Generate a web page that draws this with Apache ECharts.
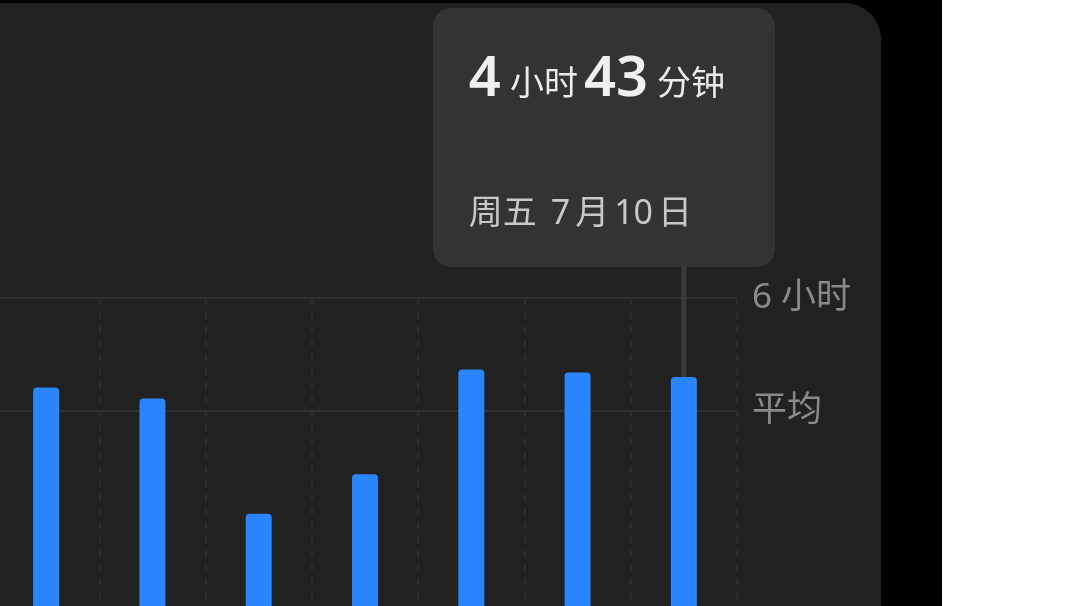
<!DOCTYPE html>
<html><head><meta charset="utf-8">
<script src="https://cdn.jsdelivr.net/npm/echarts@6/dist/echarts.min.js"></script>
<style>
html,body{margin:0;padding:0;background:#000;overflow:hidden;width:1080px;height:606px;position:relative}
#c{position:absolute;left:-60px;top:0;width:1140px;height:700px}
</style>
</head><body><div id="c"></div>
<script>
// ---- data ----
const days = ['周六 7月4日', '周日 7月5日', '周一 7月6日', '周二 7月7日', '周三 7月8日', '周四 7月9日', '周五 7月10日'];
const hours = [4.55, 4.37, 2.50, 3.14, 4.84, 4.79, 4.72];
const avgHours = 4.17;
const yMax = 6;
const yTickLabel = '6 小时';
const avgLabel = '平均';
const selectedIndex = 6;

const FONT = "'Noto Sans', 'Noto Sans CJK SC', sans-serif";
const OX = 60; // chart canvas is shifted 60px left of the page
const chart = echarts.init(document.getElementById('c'));

const bgGraphics = [
  { type: 'rect', z: -100, silent: true, shape: { x: 942 + OX, y: 0, width: 300, height: 800 }, style: { fill: '#ffffff' } },
  { type: 'rect', z: -99, silent: true, shape: { x: 0, y: 3, width: 881 + OX, height: 800, r: 36 }, style: { fill: '#212121' } }
];

chart.setOption({
  animation: false,
  backgroundColor: '#000',
  grid: { left: 53, right: 343, top: 298, bottom: 32, containLabel: false },
  xAxis: {
    type: 'category',
    data: days,
    boundaryGap: true,
    axisLine: { show: false },
    axisTick: { show: false },
    axisLabel: { show: false },
    splitLine: { show: true, interval: 0, lineStyle: { color: '#2c2c2c', width: 2, type: [7, 7] } }
  },
  yAxis: {
    type: 'value',
    position: 'right',
    min: 0, max: yMax, interval: yMax,
    axisLine: { show: false },
    axisTick: { show: false },
    axisLabel: {
      margin: 15, fontSize: 35, color: '#8a8a8a', fontFamily: FONT, padding: [0, 0, 8, 0],
      formatter: v => (v === yMax ? yTickLabel : '')
    },
    splitLine: { show: true, lineStyle: { color: '#2e2e2e', width: 2 } }
  },
  series: [
    {
      type: 'bar',
      z: 3,
      data: hours,
      barWidth: 26,
      itemStyle: { color: '#2a85ff', borderRadius: [4, 4, 0, 0] },
      markLine: {
        z: 1,
        silent: true,
        symbol: ['none', 'none'],
        animation: false,
        lineStyle: { color: '#2e2e2e', width: 2, type: 'solid' },
        label: { position: 'end', formatter: avgLabel, color: '#8a8a8a', fontSize: 35, distance: 15, fontFamily: FONT, padding: [0, 0, 10, 0] },
        data: [{ yAxis: avgHours }]
      }
    }
  ],
  graphic: bgGraphics
});

// tooltip-like callout for the selected bar
const val = hours[selectedIndex];
const hh = Math.floor(val);
const mm = Math.round((val - hh) * 60);
const dateText = days[selectedIndex].replace(/(\d+)月(\d+)日/, '{n|$1}月{n|$2}日');
const [bx, by] = chart.convertToPixel({ seriesIndex: 0 }, [selectedIndex, val]);
const boxW = 342, boxH = 259, boxX = bx - 251, boxY = 8;

chart.setOption({
  graphic: bgGraphics.concat([
    { type: 'rect', z: 50, silent: true, shape: { x: bx - 2.5, y: boxY + boxH - 4, width: 5, height: by - (boxY + boxH) + 4 }, style: { fill: '#3a3a3a' } },
    { type: 'rect', z: 60, silent: true, shape: { x: boxX, y: boxY, width: boxW, height: boxH, r: 18 }, style: { fill: '#333333' } },
    {
      type: 'text', z: 61, silent: true, x: boxX + 36, y: boxY + 100,
      style: {
        text: '{b|' + hh + '}{u|小时}{c|' + mm + '}{u|分钟}',
        verticalAlign: 'bottom',
        rich: {
          b: { fontSize: 56, fontWeight: 600, fill: '#f0f0f0', fontFamily: FONT, verticalAlign: 'bottom', lineHeight: 60 },
          c: { fontSize: 56, fontWeight: 600, fill: '#f0f0f0', fontFamily: FONT, verticalAlign: 'bottom', lineHeight: 60, padding: [0, 0, 0, 6] },
          u: { fontSize: 34, fill: '#ececec', fontFamily: FONT, verticalAlign: 'bottom', lineHeight: 60, padding: [0, 0, 6, 9] }
        }
      }
    },
    {
      type: 'text', z: 61, silent: true, x: boxX + 36, y: boxY + 206,
      style: {
        text: dateText, fontSize: 34, fill: '#c8c8c8', fontFamily: FONT, verticalAlign: 'middle',
        rich: { n: { fontSize: 34, fill: '#c8c8c8', fontFamily: FONT, padding: [0, 5, 0, 5] } }
      }
    }
  ])
});
</script>
</body></html>
